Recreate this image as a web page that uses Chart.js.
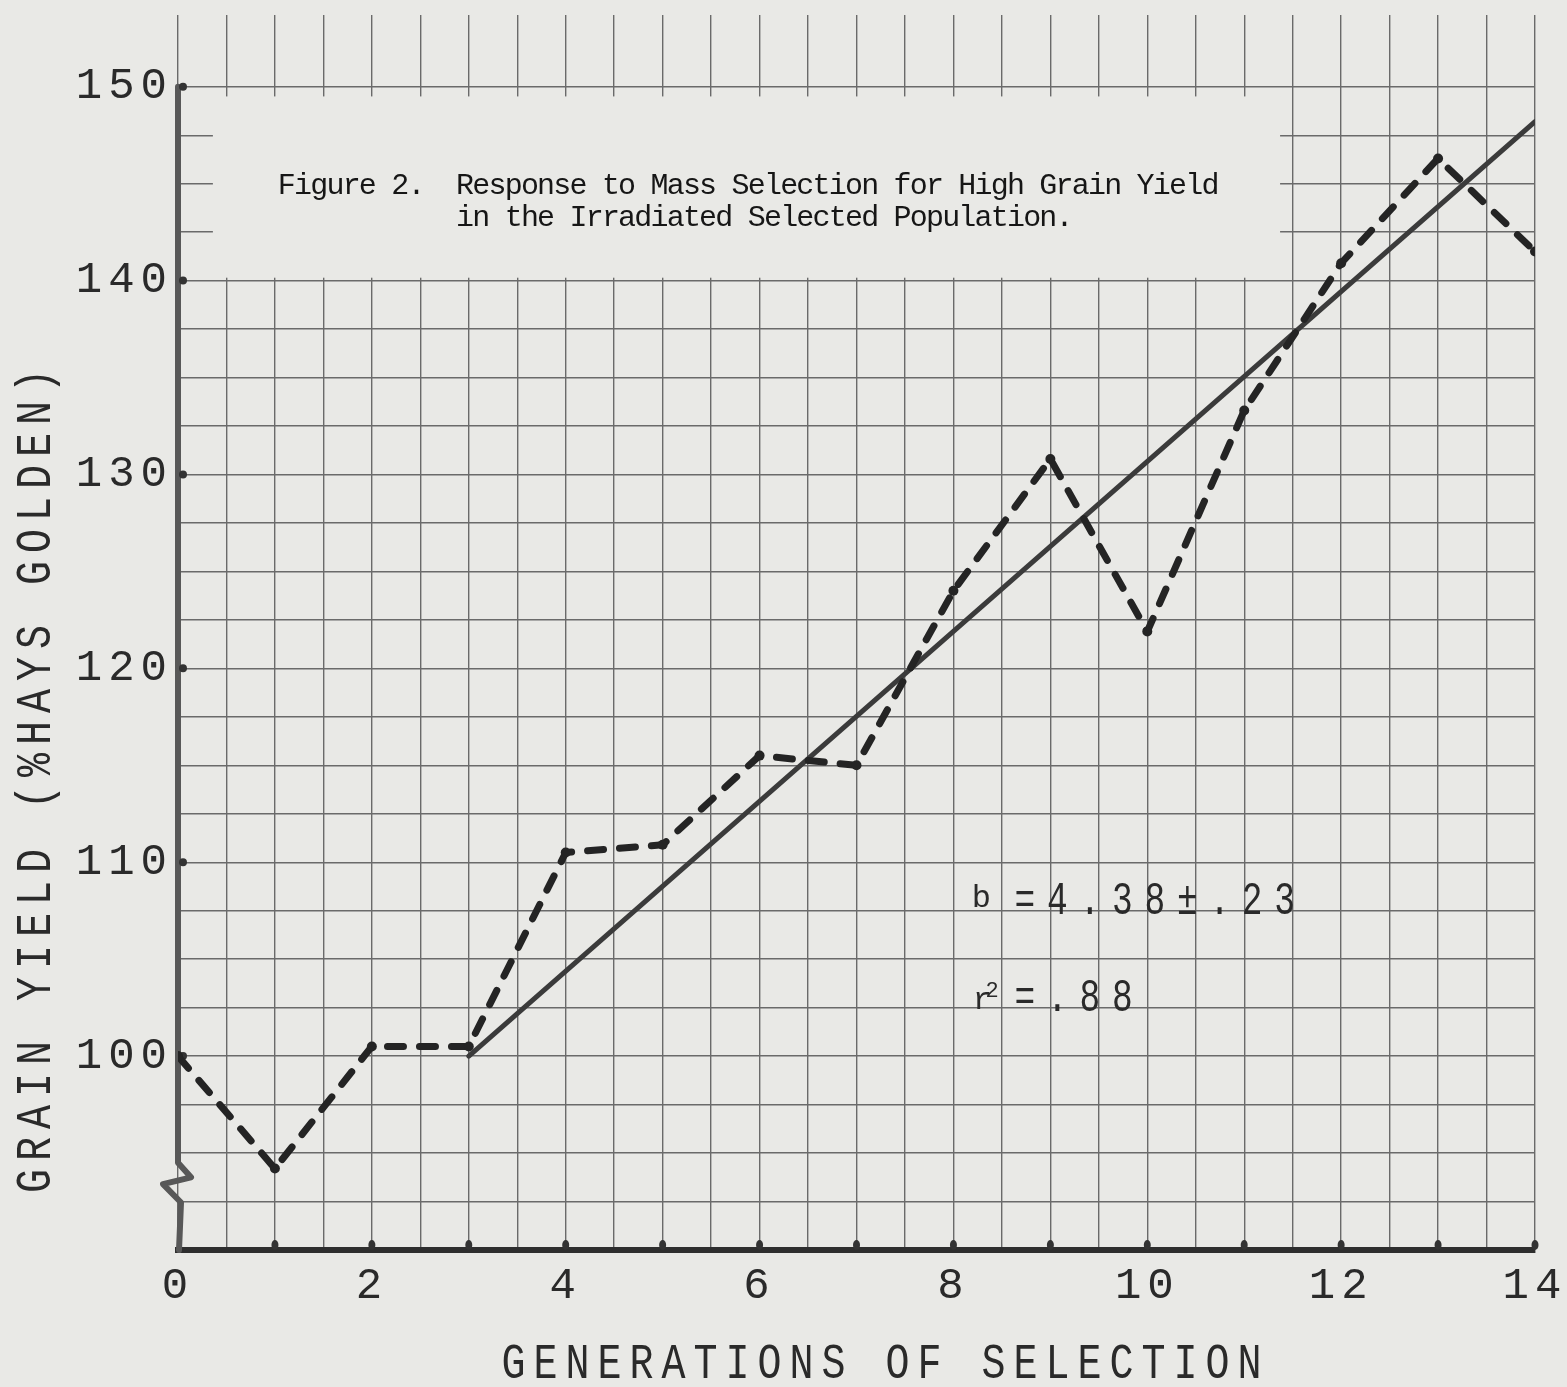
<!DOCTYPE html>
<html>
<head>
<meta charset="utf-8">
<script src="https://cdn.jsdelivr.net/npm/chart.js@4.4.1/dist/chart.umd.min.js"></script>
<style>
  html, body { margin: 0; padding: 0; background: #e9e9e6; }
  #wrap { width: 1567px; height: 1387px; }
</style>
</head>
<body>
<div id="wrap"><canvas id="yieldChart"></canvas></div>
<script>
// values
const generations = [0, 1, 2, 3, 4, 5, 6, 7, 8, 9, 10, 11, 12, 13, 14];
const grainYield = [100, 94.2, 100.5, 100.5, 110.5, 110.9, 115.5, 115.0, 124.0, 130.8, 121.9, 133.3, 140.9, 146.3, 141.5];
// regression line (b = 4.38)
const fitX = [3, 14];
const fitY = [100, 148.2];
const yTickLabels = [100, 110, 120, 130, 140, 150];
const xTickLabels = [0, 2, 4, 6, 8, 10, 12, 14];
const xTitle = 'GENERATIONS OF SELECTION';
const yTitle = 'GRAIN YIELD (%HAYS GOLDEN)';
const captionLines = ['Figure 2.  Response to Mass Selection for High Grain Yield', 'in the Irradiated Selected Population.'];
const slopeText = '=4.38\u00b1.23';
const r2Text = '=.88';

const ink = '#242424';
const gridInk = '#6a6a6a';
const paper = '#e9e9e6';
const monoFont = "'Liberation Mono', 'DejaVu Sans Mono', monospace";

// narrow typewriter lettering: squeeze the text sideways
function narrowText(c, text, px, py, sx, align) {
  c.save();
  c.translate(px, py);
  c.scale(sx, 1);
  c.textAlign = align;
  c.fillText(text, 0, 0);
  c.restore();
}

// paper, pasted caption block, broken left axis, texts
const paperPlugin = {
  id: 'paper',
  beforeDraw(chart) {
    const c = chart.ctx;
    c.save();
    c.fillStyle = paper;
    c.fillRect(0, 0, chart.width, chart.height);
    c.restore();
    c.letterSpacing = '6px';
  },
  beforeDatasetsDraw(chart) {
    const { ctx: c, scales: { x, y } } = chart;
    c.save();
    // the caption was pasted over the grid
    c.fillStyle = paper;
    const l = x.getPixelForValue(0.36), r = x.getPixelForValue(11.37);
    const t = y.getPixelForValue(149.5), b = y.getPixelForValue(140.15);
    c.fillRect(l, t, r - l, b - t);

    // thick left axis with the break mark
    const ax = x.getPixelForValue(0);
    c.strokeStyle = '#585858';
    c.lineWidth = 6;
    c.lineJoin = 'round';
    c.lineCap = 'round';
    c.beginPath();
    c.moveTo(ax, y.getPixelForValue(150));
    c.lineTo(ax, y.getPixelForValue(94.5));
    c.lineTo(ax + 13, y.getPixelForValue(93.75));
    c.lineTo(ax - 15, y.getPixelForValue(93.4));
    c.lineTo(ax + 3, y.getPixelForValue(92.45));
    c.lineTo(ax + 1, y.bottom);
    c.stroke();

    // little tick bumps
    c.fillStyle = '#333';
    yTickLabels.forEach(v => {
      c.beginPath();
      c.arc(ax + 5, y.getPixelForValue(v), 4, 0, Math.PI * 2);
      c.fill();
    });
    generations.forEach(g => {
      if (g === 0) return;
      c.beginPath();
      c.ellipse(x.getPixelForValue(g), y.bottom - 5, 3.5, 5, 0, 0, Math.PI * 2);
      c.fill();
    });
    c.restore();
  },
  afterDraw(chart) {
    const { ctx: c, scales: { x, y } } = chart;
    c.save();
    c.fillStyle = '#2a2a2a';
    c.textBaseline = 'alphabetic';

    // axis titles
    c.font = '50px ' + monoFont;
    c.letterSpacing = '10px';
    narrowText(c, xTitle, x.getPixelForValue(7.3), chart.height - 9, 0.8, 'center');
    c.save();
    c.translate(50, y.getPixelForValue(114.4));
    c.rotate(-Math.PI / 2);
    narrowText(c, yTitle, 0, 0, 0.8, 'center');
    c.restore();

    // caption
    c.fillStyle = '#161616';
    c.font = '30px ' + monoFont;
    c.letterSpacing = '-1.8px';
    c.textBaseline = 'middle';
    c.textAlign = 'left';
    const cx = x.getPixelForValue(1.03);
    c.fillText(captionLines[0], cx, y.getPixelForValue(144.9));
    const indent = c.measureText('Figure 2.  ').width;
    c.fillText(captionLines[1], cx + indent, y.getPixelForValue(143.25));

    // regression stats
    c.textBaseline = 'alphabetic';
    c.fillStyle = '#2a2a2a';
    c.letterSpacing = '0px';
    c.font = '32px ' + monoFont;
    c.fillText('b', x.getPixelForValue(8.19), y.getPixelForValue(107.69));
    c.fillText('r', x.getPixelForValue(8.2), y.getPixelForValue(102.42));
    c.font = '22px ' + monoFont;
    c.fillText('2', x.getPixelForValue(8.33), y.getPixelForValue(103.04));
    c.font = '46px ' + monoFont;
    c.letterSpacing = '15.7px';
    narrowText(c, slopeText, x.getPixelForValue(8.63), y.getPixelForValue(107.33), 0.75, 'left');
    narrowText(c, r2Text, x.getPixelForValue(8.63), y.getPixelForValue(102.32), 0.75, 'left');
    c.restore();
  }
};

const ctx = document.getElementById('yieldChart').getContext('2d');

const yieldChart = new Chart(ctx, {
  type: 'line',
  data: {
    datasets: [
      {
        label: 'Grain yield',
        data: generations.map((g, i) => ({ x: g, y: grainYield[i] })),
        borderColor: ink,
        backgroundColor: ink,
        borderWidth: 7,
        borderDash: [16, 16],
        borderCapStyle: 'round',
        borderJoinStyle: 'round',
        pointRadius: 5,
        pointBorderWidth: 0,
        pointBackgroundColor: ink,
        tension: 0
      },
      {
        label: 'Regression',
        data: fitX.map((v, i) => ({ x: v, y: fitY[i] })),
        borderColor: '#3b3b3b',
        borderWidth: 5,
        borderCapStyle: 'round',
        pointRadius: 0,
        tension: 0
      }
    ]
  },
  options: {
    responsive: true,
    maintainAspectRatio: false,
    animation: false,
    layout: { padding: { top: 15, right: 32, left: 0, bottom: 0 } },
    plugins: {
      legend: { display: false },
      tooltip: { enabled: false }
    },
    scales: {
      x: {
        type: 'linear',
        min: 0,
        max: 14,
        afterFit(s) { s.height = 137; s.paddingLeft = 0; s.paddingRight = 0; },
        grid: { color: gridInk, lineWidth: 1.4, drawTicks: false },
        border: { display: true, color: '#2e2e2e', width: 6 },
        ticks: {
          stepSize: 0.5,
          autoSkip: false,
          maxRotation: 0,
          padding: 10,
          color: '#2a2a2a',
          font: { family: monoFont, size: 44 },
          callback: v => xTickLabels.includes(v) ? String(v) : ''
        }
      },
      y: {
        min: 90,
        max: 153.7,
        afterFit(s) { s.width = 178; s.paddingTop = 0; s.paddingBottom = 0; },
        grid: {
          color: c => (c.tick && c.tick.value % 2.5 === 0) ? gridInk : 'rgba(0,0,0,0)',
          lineWidth: 1.4,
          drawTicks: false
        },
        border: { display: false },
        ticks: {
          stepSize: 2.5,
          autoSkip: false,
          padding: 5,
          color: '#2a2a2a',
          font: { family: monoFont, size: 44 },
          callback: v => yTickLabels.includes(v) ? String(v) : ''
        }
      }
    }
  },
  plugins: [paperPlugin]
});
</script>
</body>
</html>
